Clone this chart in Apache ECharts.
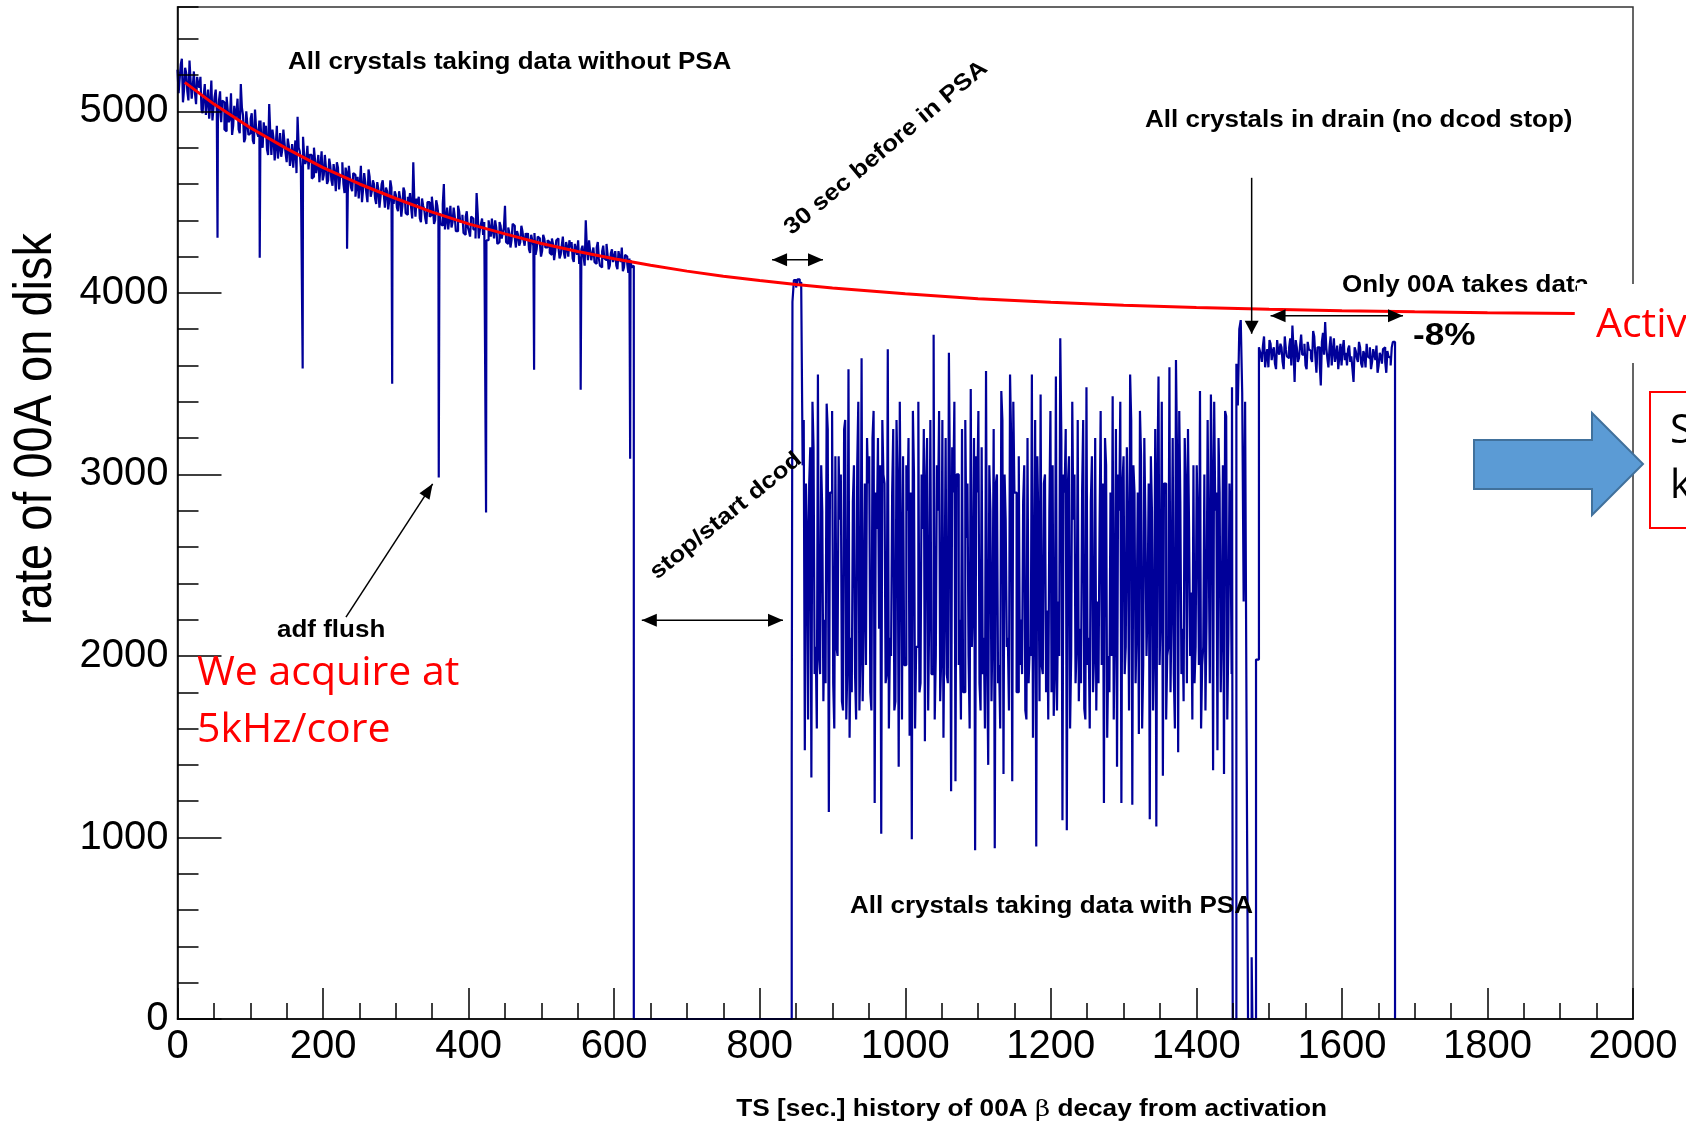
<!DOCTYPE html>
<html>
<head>
<meta charset="utf-8">
<script src="https://cdn.jsdelivr.net/npm/echarts@6/dist/echarts.min.js"></script>
<style>
html,body{margin:0;padding:0;background:#fff;}
#c{width:1686px;height:1126px;}
</style>
</head>
<body>
<div id="c"></div>
<script>
// ---------------- DATA ----------------
// tick labels
const xTickValues = [0, 200, 400, 600, 800, 1000, 1200, 1400, 1600, 1800, 2000];
const yTickValues = [0, 1000, 2000, 3000, 4000, 5000];

// rate of 00A, phase 1 (all crystals without PSA): bins at t = 0,3,6,...
const rateEarly = [
 5230,5180,5290,5120,5210,5060,5170,5140,5100,5190,
 5130,5010,5090,4980,5120,5040,4950,5080,5000,5060,
 4940,5050,4890,5010,4960,4870,5030,4990,4900,5150,
 4980,4850,4930,4880,4990,4820,4910,4860,4950,4800,
 4870,4790,5040,4760,4850,4810,4740,4880,4790,4830,
 4720,4810,4750,4690,4840,4970,4780,4700,4760,4730,
 4680,4760,4640,4730,4700,4610,4780,4650,4690,4620,
 4700,4590,4660,4720,4570,4640,4600,4690,4550,4630,
 4560,4650,4590,4520,4700,4570,4610,4500,4640,4560,
 4600,4490,4570,4530,4620,4470,4560,4510,4580,4490,
 4540,4450,4520,4480,4560,4430,4500,4470,4720,4420,
 4490,4410,4520,4460,4380,4500,4430,4470,4400,4480,
 4440,4370,4600,4400,4350,4480,4390,4420,4340,4450,
 4400,4330,4420,4360,4310,4410,4350,4550,4300,4380,
 4320,4380,4290,4350,4410,4300,4360,4280,4370,4330,
 4480,4270,4330,4290,4370,4250,4320,4280,4340,4260,
 4300,4240,4320,4260,4210,4310,4270,4230,4300,4250,
 4280,4210,4270,4230,4300,4190,4260,4220,4280,4200,
 4250,4190,4270,4210,4160,4240,4200,4400,4180,4230,
 4220,4170,4250,4190,4140,4260,4180,4210,4150,4240,
 4200,4150,4230,4170,4120,4210,4160,4190,4140
];
// phase 1, in-between bins at t = 1.5,4.5,7.5,...
const rateEarlyMid = [
 5100,5260,5050,5240,5110,5280,5070,5220,5040,5150,
 5190,4990,5150,5060,4960,5170,5020,5120,4940,5110,
 5060,4900,5080,4940,5100,4920,4960,5070,4880,5020,
 4830,5000,4870,4960,4840,5010,4880,4950,4820,4940,
 4920,4760,4880,4900,4730,4920,4800,4750,4900,4770,
 4850,4700,4820,4770,4660,4800,4690,4860,4710,4810,
 4760,4630,4800,4660,4760,4700,4620,4760,4600,4740,
 4620,4710,4560,4690,4640,4720,4550,4660,4700,4580,
 4660,4530,4640,4600,4500,4660,4550,4680,4530,4620,
 4520,4610,4470,4600,4540,4580,4460,4620,4530,4560,
 4470,4560,4420,4580,4440,4530,4550,4410,4500,4520,
 4530,4390,4480,4410,4500,4420,4530,4380,4510,4430,
 4380,4490,4350,4470,4410,4360,4470,4340,4480,4390,
 4430,4320,4450,4340,4420,4350,4300,4440,4350,4410,
 4390,4290,4400,4310,4340,4400,4270,4390,4300,4360,
 4280,4360,4250,4380,4300,4340,4260,4370,4290,4330,
 4330,4220,4290,4330,4240,4300,4200,4320,4250,4290,
 4220,4300,4180,4290,4250,4210,4310,4190,4250,4290,
 4280,4170,4240,4290,4200,4260,4150,4250,4290,4180,
 4250,4160,4280,4150,4230,4190,4270,4130,4220,4170,
 4230,4130,4190,4250,4140,4200,4110,4180,4150
];
// single-bin drops (adf flush etc.) [t, rate]
const rateDips = [[55,4304],[113,4194],[172,3583],[233,4243],[295,3500],[359,2983],[424,2790],[490,3577],[554,3467],[622,3087]];
// stop/start dcod and the 30 s before PSA [t, rate]
const rateRestart = [[627,0],[844,1430],[845,3950],[847,4070],[850,4030],[852,4075],[855,4040],[857,4060]];
// phase 2 (all crystals with PSA): bins at t = 859,862,...
const rateBand = [
 3050,1480,2700,2950,1330,3150,2050,3550,1900,2800,
 2200,3390,1140,2900,1850,3100,2000,2750,1750,3250,
 1650,3580,2100,2850,1900,3050,1700,3640,2250,1950,
 2950,1800,3200,1190,2700,2150,1020,3000,1850,3690,
 2100,2900,1700,3300,1390,2600,3100,1950,2800,1560,
 990,3000,2050,3400,1850,2700,1530,3200,2250,1900,
 3770,2000,2800,1750,3300,2300,1900,3670,1255,2900,
 1310,3000,2200,3250,1800,2650,2000,3470,2300,930,
 2900,1850,3150,2100,3570,1400,2800,2200,940,3000,
 1950,3460,1350,2750,2100,3550,1310,2900,1800,3100,
 2200,2850,1700,3200,2050,3550,2400,950,2700,3440,
 1900,3000,2250,2800,1800,1670,3540,2300,3750,1095,
 2900,1040,3100,2000,2750,1850,3300,2150,2900,1710,
 3480,2100,2850,1800,3200,2300,2700,1950,1190,3050,
 2000,2900,3430,2200,1390,2800,1190,3100,2050,2650,
 3550,1180,2900,2200,1570,3100,1950,2750,2300,1100,
 2800,2100,1060,3540,2250,1340,2950,2000,3590,2300,
 1900,3630,1470,2850,2150,3200,1850,2700,2350,3050,
 2050,2750,3460,1950,3000,2200,2600,3440,1370,2800,
 1480,2900,2200,1350,3320,2100,2700
];
// phase 2, in-between bins at t = 860.5,863.5,...
const rateBandMid = [
 3300,2950,1650,3150,3400,1900,1600,2000,3050,1750,
 1850,3250,2900,3350,1600,2050,3100,3000,1700,3300,
 1950,1550,1800,3050,1650,3400,2000,1750,2950,3200,
 3100,1700,3350,2900,3200,3050,3300,2950,1900,1600,
 2000,3250,1750,2950,3400,1650,1950,3050,3200,2900,
 3350,1600,2050,1800,3000,3250,2950,1700,3300,1900,
 1650,3050,3350,2000,1550,3200,1850,2900,3150,3400,
 3000,1950,1650,1800,3300,2950,1600,2050,3200,3100,
 3350,1700,1900,1600,2000,3050,1750,3250,2950,1850,
 1600,3300,3000,2050,1700,3200,3400,2900,1800,1950,
 1900,3050,1650,1850,2000,1550,3300,3100,1750,1950,
 2950,1800,1650,3350,3050,1900,1700,2000,3200,3000,
 3250,2950,1600,3400,3000,2050,1750,1850,3300,1650,
 1950,1600,3100,2000,1700,1850,3350,2950,3200,1550,
 1800,2000,1650,3250,3000,3400,2950,1900,3150,1700,
 3300,3050,1850,2900,3350,1600,3200,2000,2950,3100,
 1700,3250,3000,1950,3400,2950,1650,2050,1800,3200,
 1600,3100,3350,1900,1750,2950,3250,2000,1650,1850,
 3050,1950,1600,2050,1700,3300,1850,3000,3400,2900,
 3200,1800,3050,3350,1650,2950,1900
];
// all crystals in drain [t, rate]
const rateDrain = [[1449,3480],[1450,0],[1455,3610],[1457,3380],[1459,3800],[1461,3850],[1463,3450],[1465,2300],[1467,3400],[1469,1600],[1471,0],[1476,340],[1477,0],[1482,1980],[1486,3700]];
// only 00A takes data: bins at t = 1487,1490,...
const rateOnlyA = [
 3700,3620,3760,3650,3590,3720,3680,3610,3740,3660,
 3700,3580,3690,3640,3750,3820,3510,3700,3640,3770,
 3660,3600,3730,3680,3620,3760,3560,3700,3490,3780,
 3840,3640,3700,3600,3750,3660,3580,3720,3690,3630,
 3600,3710,3650,3510,3680,3620,3700,3590,3660,3720,
 3640,3580,3690,3630,3560,3670,3610,3700,3560,3650,
 3600,3730
];
// only 00A, in-between bins at t = 1488.5,1491.5,...
const rateOnlyAMid = [
 3660,3710,3590,3690,3740,3630,3700,3580,3680,3720,
 3620,3760,3650,3700,3600,3690,3740,3620,3710,3660,
 3720,3580,3690,3640,3790,3650,3700,3610,3730,3660,
 3700,3590,3760,3680,3620,3710,3650,3600,3740,3670,
 3690,3620,3580,3700,3640,3730,3610,3680,3590,3650,
 3700,3620,3660,3710,3600,3650,3690,3620,3680,3640,
 3700
];
const rateEnd = [[1673,0]];

// decay fit (red curve)
const fitT = [10,50,100,150,200,250,300,350,400,450,500,550,600,650,700,750,800,850,900,1000,1100,1200,1300,1400,1500,1600,1700,1800,1920];
const fitV = [5160,5040,4910,4795,4690,4600,4520,4445,4380,4325,4272,4228,4188,4152,4120,4092,4068,4046,4027,3995,3968,3948,3932,3919,3910,3902,3896,3891,3887];

// annotation anchors in data coordinates
const spanArrows = [{t0:817,t1:887,v:4183},{t0:638,t1:832,v:2196},{t0:1502,t1:1684,v:3874}];
const drainArrow = {t:1476, v0:4634, v1:3775};
const adfArrow = {t0:231.5, v0:2214, t1:350.6, v1:2948};

// ---------------- BUILD ----------------
function binned(start, step, vals){ return vals.map((v,i)=>[start+i*step, v]); }
const byT = (a,b)=>a[0]-b[0];
const phase1 = binned(0,3,rateEarly).concat(binned(1.5,3,rateEarlyMid), rateDips).sort(byT);
const phase2 = binned(859,3,rateBand).concat(binned(860.5,3,rateBandMid)).sort(byT);
const phase3 = binned(1487,3,rateOnlyA).concat(binned(1488.5,3,rateOnlyAMid)).sort(byT);
const bluePts = phase1.concat(rateRestart, phase2, rateDrain, phase3, rateEnd);
const fitPts = fitT.map((t,i)=>[t, fitV[i]]);

const chart = echarts.init(document.getElementById('c'), null, {renderer:'canvas', width:1686, height:1126});
const AX = '#000';
const option = {
  animation:false,
  backgroundColor:'#ffffff',
  grid:{left:177.5, top:7, width:1455.5, height:1012, show:true, borderColor:'#333', borderWidth:1.5, outerBoundsMode:'none', containLabel:false},
  xAxis:{type:'value', min:0, max:2000, interval:200, z:5,
    axisLine:{show:true, onZero:false, lineStyle:{color:AX, width:1.5}},
    axisTick:{show:true, inside:true, length:31, lineStyle:{color:AX, width:1.5}},
    minorTick:{show:true, splitNumber:4, length:16, lineStyle:{color:AX, width:1.5}},
    axisLabel:{fontSize:40, fontFamily:'"Liberation Sans", Arial, sans-serif', color:'#000', margin:8,
      formatter:v=> xTickValues.includes(v) ? String(v) : ''},
    splitLine:{show:false}},
  yAxis:[
   {type:'value', min:0, max:5575, interval:1000, position:'left', z:5,
    axisLine:{show:true, onZero:false, lineStyle:{color:AX, width:1.5}},
    axisTick:{show:true, inside:true, length:44, lineStyle:{color:AX, width:1.5}},
    axisLabel:{fontSize:40, fontFamily:'"Liberation Sans", Arial, sans-serif', color:'#000', margin:9, showMaxLabel:false,
      formatter:v=> yTickValues.includes(v) ? String(v) : ''},
    splitLine:{show:false}},
   {type:'value', min:0, max:5575, interval:200, position:'left', z:5,
    axisLine:{show:false},
    axisTick:{show:true, inside:true, length:21, lineStyle:{color:AX, width:1.5}},
    axisLabel:{show:false}, splitLine:{show:false}}
  ],
  series:[
   {type:'line', name:'rate', data:bluePts, step:'end', symbol:'none', showSymbol:false, silent:true,
    lineStyle:{color:'#000099', width:2.2}, z:2},
   {type:'line', name:'fit', data:fitPts, symbol:'none', showSymbol:false, silent:true,
    lineStyle:{color:'#ff0000', width:3}, z:3}
  ]
};
chart.setOption(option);

// ---------------- ANNOTATIONS ----------------
const P = (t,v)=>chart.convertToPixel({xAxisIndex:0, yAxisIndex:0}, [t,v]);
const rootFont = sz => 'bold ' + sz + 'px "Liberation Sans", Arial, sans-serif';
const slideFont = sz => sz + 'px "Open Sans", "Noto Sans", sans-serif';
const G = [];
function txt(text, x, y, o){
  o = o || {};
  const align = o.align || 'left', valign = o.valign || 'middle';
  G.push({type:'text', x:x, y:y, rotation:o.rot||0, scaleX:o.sx||1, scaleY:o.sy||1, z:o.z||60,
    style:{text:text, font:o.font, fill:o.fill||'#000', align:align, textAlign:align,
      verticalAlign:valign, textVerticalAlign:valign, rich:o.rich}});
}
function head(tip, from, len, half){
  const dx=tip[0]-from[0], dy=tip[1]-from[1], L=Math.hypot(dx,dy), ux=dx/L, uy=dy/L;
  const bx=tip[0]-ux*len, by=tip[1]-uy*len;
  G.push({type:'polygon', z:60, shape:{points:[[tip[0],tip[1]],[bx-uy*half,by+ux*half],[bx+uy*half,by-ux*half]]}, style:{fill:'#000'}});
}
function line(a,b){ G.push({type:'line', z:60, shape:{x1:a[0],y1:a[1],x2:b[0],y2:b[1]}, style:{stroke:'#000', lineWidth:1.5}}); }

spanArrows.forEach(s=>{
  const a=P(s.t0,s.v), b=P(s.t1,s.v);
  line(a,b); head(a,b,15,6.5); head(b,a,15,6.5);
});
{ const a=P(drainArrow.t,drainArrow.v0), b=P(drainArrow.t,drainArrow.v1); line(a,b); head(b,a,13,7); }
{ const a=P(adfArrow.t0,adfArrow.v0), b=P(adfArrow.t1,adfArrow.v1); line(a,b); head(b,a,15,6); }

const SX = 1.13;
txt('All crystals taking data without PSA', 288, 63, {font:rootFont(23), sx:SX});
txt('All crystals in drain (no dcod stop)', 1145, 121, {font:rootFont(23), sx:SX});
txt('All crystals taking data with PSA', 850, 907, {font:rootFont(23), sx:SX});
txt('Only 00A takes data', 1342, 286, {font:rootFont(23), sx:SX});
txt('-8%', 1413, 336, {font:rootFont(32), sx:1.1});
txt('adf flush', 277, 631, {font:rootFont(23), sx:SX});
txt('30 sec before in PSA', 886, 148, {font:rootFont(23), sx:SX, align:'center', rot:40*Math.PI/180});
txt('stop/start dcod', 726, 516, {font:rootFont(23), sx:SX, align:'center', rot:39*Math.PI/180});
// axis titles
txt('{a|TS [sec.] history of 00A }{b|\u03b2}{a| decay from activation}', 1327, 1110,
  {align:'right', sx:1.14, rich:{a:{font:rootFont(23), fill:'#000'}, b:{font:'23px "DejaVu Serif", serif', fill:'#000'}}, font:rootFont(23)});
txt('rate of 00A on disk', 36, 233, {font:'47px "Liberation Sans", Arial, sans-serif', align:'right', rot:Math.PI/2, sy:1.13});

// slide overlay
G.push({type:'rect', z:80, shape:{x:1577, y:284, width:120, height:79}, style:{fill:'#fff'}});
txt('Activ', 1596, 325, {font:slideFont(41), fill:'#ff0000', z:90});
txt('We acquire at', 197, 673, {font:slideFont(41), fill:'#ff0000', z:90});
txt('5kHz/core', 197, 730, {font:slideFont(41), fill:'#ff0000', z:90});
G.push({type:'polygon', z:85, shape:{points:[[1474,440],[1592,440],[1592,413],[1643,464],[1592,515],[1592,489],[1474,489]]},
  style:{fill:'#5b9bd5', stroke:'#41719c', lineWidth:2}});
G.push({type:'rect', z:85, shape:{x:1650, y:392, width:60, height:136}, style:{fill:'#fff', stroke:'#ff0000', lineWidth:2}});
txt('S', 1670, 431, {font:slideFont(41), fill:'#000', z:90});
txt('k', 1670, 486, {font:slideFont(41), fill:'#000', z:90});

chart.setOption({graphic:{elements:G}});
</script>
</body>
</html>
